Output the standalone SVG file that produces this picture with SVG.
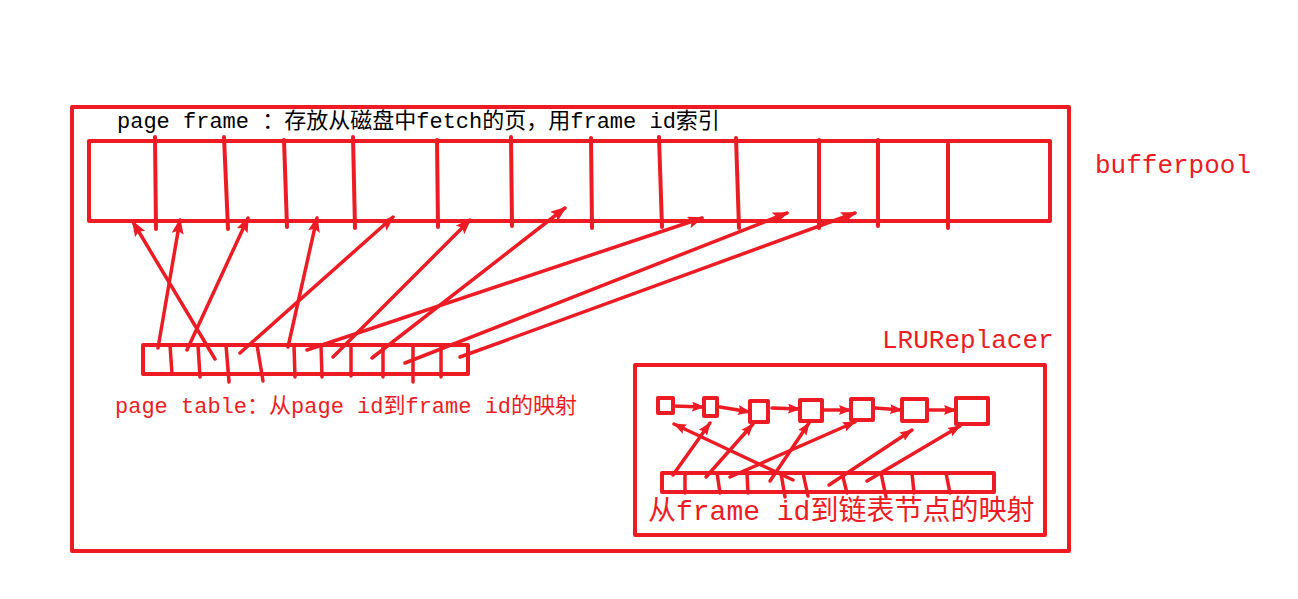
<svg xmlns="http://www.w3.org/2000/svg" width="1298" height="599" viewBox="0 0 1298 599">
<style>
.box{fill:none;stroke:#ED1C24;stroke-width:4;stroke-linejoin:round}
.div{stroke:#ED1C24;stroke-width:4;stroke-linecap:round}
.div3{stroke:#ED1C24;stroke-width:3.5;stroke-linecap:round}
.arr{fill:none;stroke:#ED1C24;stroke-width:3.5;stroke-linecap:round;marker-end:url(#ah)}
.arrs{fill:none;stroke:#ED1C24;stroke-width:3.5;stroke-linecap:round;marker-end:url(#ahs)}
.t{font-family:"Liberation Mono","Noto Sans CJK SC",monospace}
.red{fill:#ED1C24}
</style>
<defs>
<marker id="ah" markerUnits="userSpaceOnUse" markerWidth="16" markerHeight="12" refX="14" refY="6" orient="auto" viewBox="0 0 16 12">
<path d="M0,0 L16,6 L0,12 L3,6 z" fill="#ED1C24"/>
</marker>
<marker id="ahs" markerUnits="userSpaceOnUse" markerWidth="13" markerHeight="10" refX="12" refY="5" orient="auto" viewBox="0 0 13 10">
<path d="M0,0 L13,5 L0,10 L2,5 z" fill="#ED1C24"/>
</marker>
</defs>
<rect width="1298" height="599" fill="#fff"/>

<g id="bufferpool">
<rect class="box" x="72" y="107" width="997" height="444"/>
<text class="t red" x="1095" y="173" font-size="26">bufferpool</text>
</g>

<g id="page-frame">
<text class="t" x="117" y="128" font-size="22" fill="#000">page frame ：存放从磁盘中fetch的页，用frame id索引</text>
<rect class="box" x="89" y="141" width="961" height="80"/>
<line class="div" x1="155" y1="137" x2="156" y2="229"/>
<line class="div" x1="224" y1="137" x2="228" y2="229"/>
<line class="div" x1="284" y1="140" x2="287" y2="227"/>
<line class="div" x1="353" y1="137" x2="355" y2="228"/>
<line class="div" x1="437" y1="140" x2="438" y2="227"/>
<line class="div" x1="511" y1="137" x2="512" y2="226"/>
<line class="div" x1="591" y1="138" x2="592" y2="228"/>
<line class="div" x1="659" y1="137" x2="662" y2="227"/>
<line class="div" x1="736" y1="138" x2="739" y2="228"/>
<line class="div" x1="819" y1="140" x2="819" y2="228"/>
<line class="div" x1="878" y1="140" x2="878" y2="226"/>
<line class="div" x1="948" y1="144" x2="948" y2="228"/>
</g>

<g id="page-table">
<rect class="box" x="143" y="345" width="325" height="29"/>
<line class="div3" x1="170" y1="345" x2="172" y2="374"/>
<line class="div3" x1="198" y1="345" x2="200" y2="377"/>
<line class="div3" x1="226" y1="345" x2="229" y2="382"/>
<line class="div3" x1="257" y1="345" x2="263" y2="381"/>
<line class="div3" x1="294" y1="345" x2="295" y2="377"/>
<line class="div3" x1="321" y1="345" x2="322" y2="377"/>
<line class="div3" x1="351" y1="345" x2="351" y2="376"/>
<line class="div3" x1="383" y1="345" x2="383" y2="377"/>
<line class="div3" x1="413" y1="345" x2="413" y2="382"/>
<line class="div3" x1="441" y1="345" x2="441" y2="377"/>
<text class="t red" x="115" y="413" font-size="22">page table：从page id到frame id的映射</text>
</g>

<g id="lru-replacer">
<text class="t red" x="882" y="348" font-size="26">LRUReplacer</text>
<rect class="box" x="635" y="365" width="410" height="170"/>
<text class="t red" x="648" y="520" font-size="28">从frame id到链表节点的映射</text>
</g>

<g id="lru-list">
<rect class="box" x="658" y="398" width="15" height="15"/>
<rect class="box" x="704" y="398" width="13" height="18"/>
<rect class="box" x="750" y="401" width="18" height="21"/>
<rect class="box" x="800" y="400" width="22" height="21"/>
<rect class="box" x="851" y="399" width="22" height="21"/>
<rect class="box" x="902" y="399" width="25" height="22"/>
<rect class="box" x="956" y="398" width="32" height="26"/>
</g>

<g id="lru-map">
<rect class="box" x="662" y="473" width="332" height="19"/>
<line class="div3" x1="685" y1="473" x2="685" y2="493"/>
<line class="div3" x1="717" y1="473" x2="720" y2="493"/>
<line class="div3" x1="747" y1="473" x2="748" y2="493"/>
<line class="div3" x1="781" y1="473" x2="785" y2="497"/>
<line class="div3" x1="803" y1="473" x2="808" y2="496"/>
<line class="div3" x1="842" y1="473" x2="847" y2="493"/>
<line class="div3" x1="881" y1="473" x2="886" y2="497"/>
<line class="div3" x1="912" y1="473" x2="914" y2="493"/>
<line class="div3" x1="946" y1="473" x2="950" y2="493"/>
</g>

<g id="connectors">
<line class="arr" x1="158" y1="348" x2="180" y2="220"/>
<line class="arr" x1="187" y1="350" x2="248" y2="218"/>
<line class="arr" x1="215" y1="359" x2="133" y2="222"/>
<line class="arr" x1="288" y1="347" x2="317" y2="218"/>
<line class="arr" x1="240" y1="353" x2="393" y2="217"/>
<line class="arr" x1="333" y1="357" x2="470" y2="220"/>
<line class="arr" x1="307" y1="350" x2="702" y2="218"/>
<line class="arr" x1="372" y1="358" x2="565" y2="208"/>
<line class="arr" x1="405" y1="363" x2="787" y2="213"/>
<line class="arr" x1="460" y1="357" x2="855" y2="213"/>

<line class="arrs" x1="673" y1="406" x2="704" y2="407"/>
<line class="arrs" x1="720" y1="407" x2="750" y2="412"/>
<line class="arrs" x1="772" y1="408" x2="800" y2="409"/>
<line class="arrs" x1="822" y1="410" x2="851" y2="410"/>
<line class="arrs" x1="875" y1="408" x2="902" y2="410"/>
<line class="arrs" x1="927" y1="410" x2="956" y2="410"/>

<line class="arrs" x1="673" y1="475" x2="710" y2="423"/>
<line class="arrs" x1="706" y1="477" x2="753" y2="424"/>
<line class="arrs" x1="730" y1="477" x2="855" y2="422"/>
<line class="arrs" x1="770" y1="481" x2="809" y2="423"/>
<line class="arrs" x1="793" y1="480" x2="674" y2="424"/>
<line class="arrs" x1="829" y1="485" x2="912" y2="430"/>
<line class="arrs" x1="867" y1="481" x2="960" y2="426"/>
</g>
</svg>
